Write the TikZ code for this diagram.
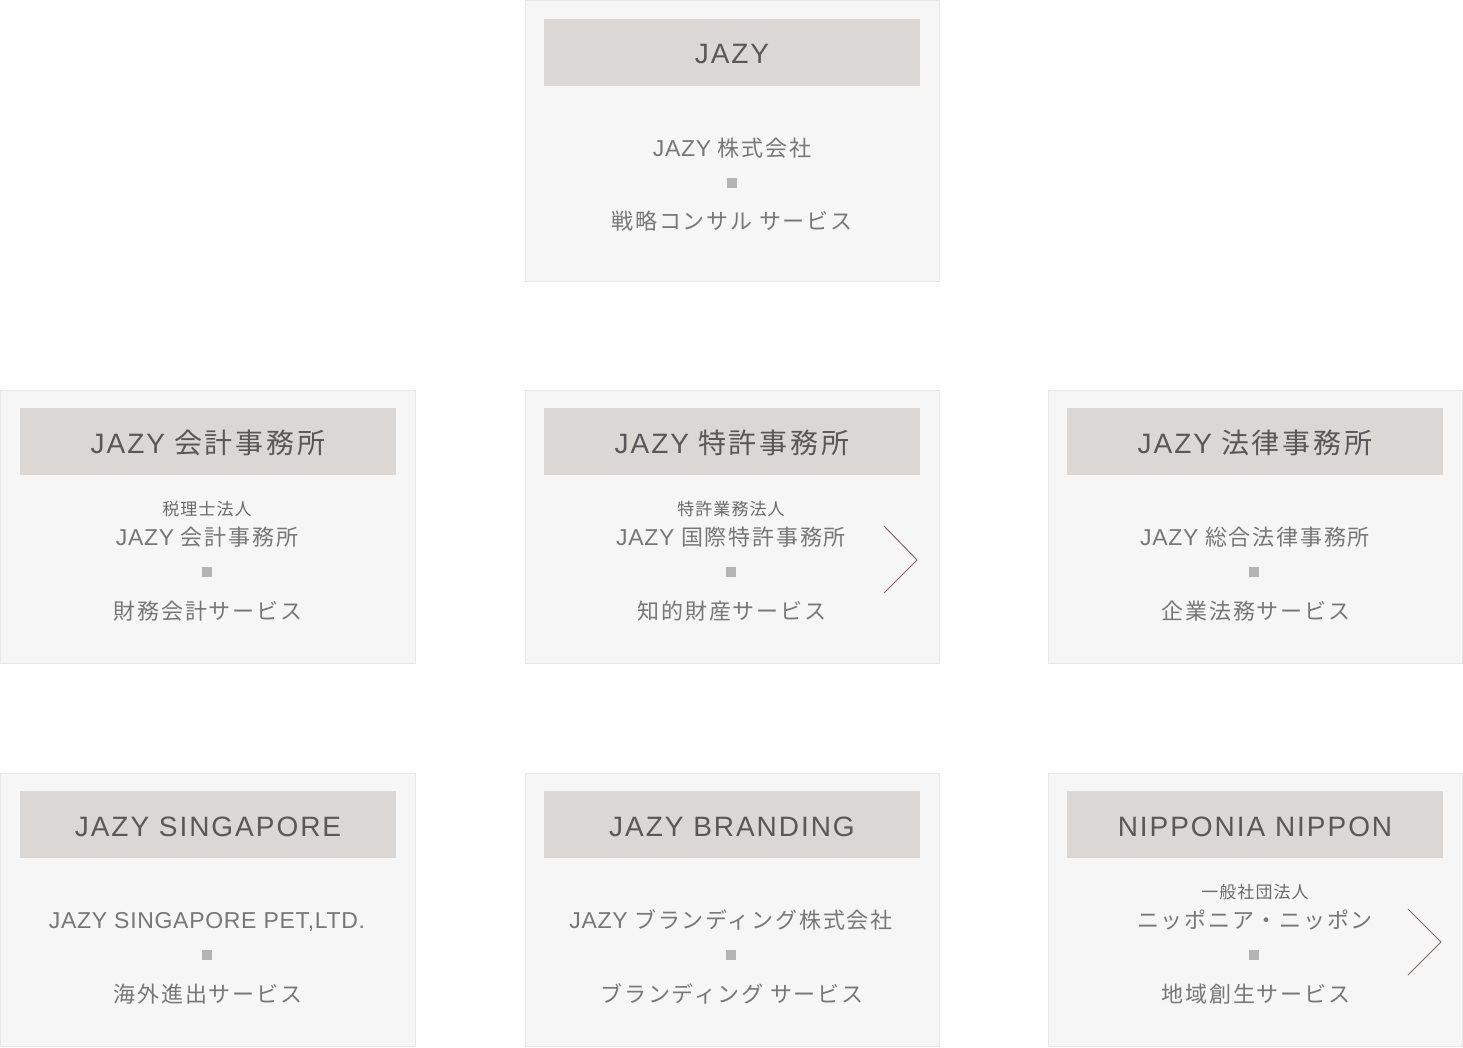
\documentclass[tikz,border=0pt]{standalone}
\usepackage{fontspec}
\setmainfont{Noto Sans CJK JP}
\newfontfamily\hdcjk[LetterSpace=10]{Noto Sans CJK JP}
\newfontfamily\hdlat[LetterSpace=7]{Liberation Sans}
\newfontfamily\bdcjk[LetterSpace=8]{Noto Sans CJK JP}
\newfontfamily\bdlat[LetterSpace=3]{Liberation Sans}
\newfontfamily\smcjk[LetterSpace=6]{Noto Sans CJK JP}
\newcommand\bodylatin[1]{{\bdlat\fontsize{23}{26}\selectfont #1}}
\definecolor{boxfill}{HTML}{F6F6F6}
\definecolor{boxline}{HTML}{E8E8E8}
\definecolor{hdfill}{HTML}{DBD7D4}
\definecolor{hdtext}{HTML}{595757}
\definecolor{bdtext}{HTML}{777777}
\definecolor{smtext}{HTML}{6A6A6A}
\definecolor{sqfill}{HTML}{B4B4B4}
\definecolor{chev}{HTML}{7D6B6B}
\tikzset{
  panel/.style={fill=boxfill, draw=boxline, line width=1pt},
  header/.style={fill=hdfill, draw=none},
  hdlabel/.style={anchor=base, inner sep=0pt, text=hdtext, font=\hdcjk\fontsize{28}{32}\selectfont},
  mainlabel/.style={anchor=base, inner sep=0pt, text=bdtext, font=\bdcjk\fontsize{22}{26}\selectfont},
  smalllabel/.style={anchor=base, inner sep=0pt, text=smtext, font=\smcjk\fontsize{17}{20}\selectfont},
  sq/.style={fill=sqfill, draw=none, minimum size=10pt, inner sep=0pt},
  chevron/.style={draw=chev, line width=1pt},
}
\begin{document}
\begin{tikzpicture}[x=1pt,y=-1pt]
\useasboundingbox (0,0) rectangle (1463,1047);
% ---------- top box
\draw[panel] (525,0.5) rectangle (939,281);
\fill[header] (544,19) rectangle (920,86);
\node[hdlabel] (h0) at (732,63) {\hdlat JAZY};
\node[mainlabel] (m0) at (732,156) {\bodylatin{JAZY} 株式会社};
\node[sq] (s0) at (732,183) {};
\node[mainlabel] (v0) at (732,229) {戦略コンサル サービス};
% ---------- row 2 (top 390)
\draw[panel] (0.5,390) rectangle (415,663);
\draw[panel] (525,390) rectangle (939,663);
\draw[panel] (1048,390) rectangle (1462.5,663);
\fill[header] (20,408) rectangle (396,475);
\fill[header] (544,408) rectangle (920,475);
\fill[header] (1067,408) rectangle (1443,475);
\node[hdlabel] (h1) at (208,453) {{\hdlat JAZY} 会計事務所};
\node[hdlabel] (h2) at (732,453) {{\hdlat JAZY} 特許事務所};
\node[hdlabel] (h3) at (1255,453) {{\hdlat JAZY} 法律事務所};
\node[smalllabel] (t1) at (207,515) {税理士法人};
\node[smalllabel] (t2) at (731,515) {特許業務法人};
\node[mainlabel] (m1) at (207,545) {\bodylatin{JAZY} 会計事務所};
\node[mainlabel] (m2) at (731,545) {\bodylatin{JAZY} 国際特許事務所};
\node[mainlabel] (m3) at (1255,545) {\bodylatin{JAZY} 総合法律事務所};
\node[sq] (s1) at (207,572) {};
\node[sq] (s2) at (731,572) {};
\node[sq] (s3) at (1254,572) {};
\node[mainlabel] (v1) at (208,619) {財務会計サービス};
\node[mainlabel] (v2) at (732,619) {知的財産サービス};
\node[mainlabel] (v3) at (1256,619) {企業法務サービス};
\draw[chevron] (884,526) -- (917,560) -- (884,593);
% ---------- row 3 (top 773)
\draw[panel] (0.5,773) rectangle (415,1046);
\draw[panel] (525,773) rectangle (939,1046);
\draw[panel] (1048,773) rectangle (1462.5,1046);
\fill[header] (20,791) rectangle (396,858);
\fill[header] (544,791) rectangle (920,858);
\fill[header] (1067,791) rectangle (1443,858);
\node[hdlabel] (h4) at (208,836) {\hdlat JAZY SINGAPORE};
\node[hdlabel] (h5) at (732,836) {\hdlat JAZY BRANDING};
\node[hdlabel] (h6) at (1255,836) {\hdlat NIPPONIA NIPPON};
\node[smalllabel] (t6) at (1255,898) {一般社団法人};
\node[mainlabel] (m4) at (207,928) {\bodylatin{JAZY SINGAPORE PET,LTD.}};
\node[mainlabel] (m5) at (731,928) {\bodylatin{JAZY} ブランディング株式会社};
\node[mainlabel] (m6) at (1255,928) {ニッポニア・ニッポン};
\node[sq] (s4) at (207,955) {};
\node[sq] (s5) at (731,955) {};
\node[sq] (s6) at (1254,955) {};
\node[mainlabel] (v4) at (208,1002) {海外進出サービス};
\node[mainlabel] (v5) at (732,1002) {ブランディング サービス};
\node[mainlabel] (v6) at (1256,1002) {地域創生サービス};
\draw[chevron] (1408,909) -- (1441,942) -- (1408,975);
\end{tikzpicture}
\end{document}
